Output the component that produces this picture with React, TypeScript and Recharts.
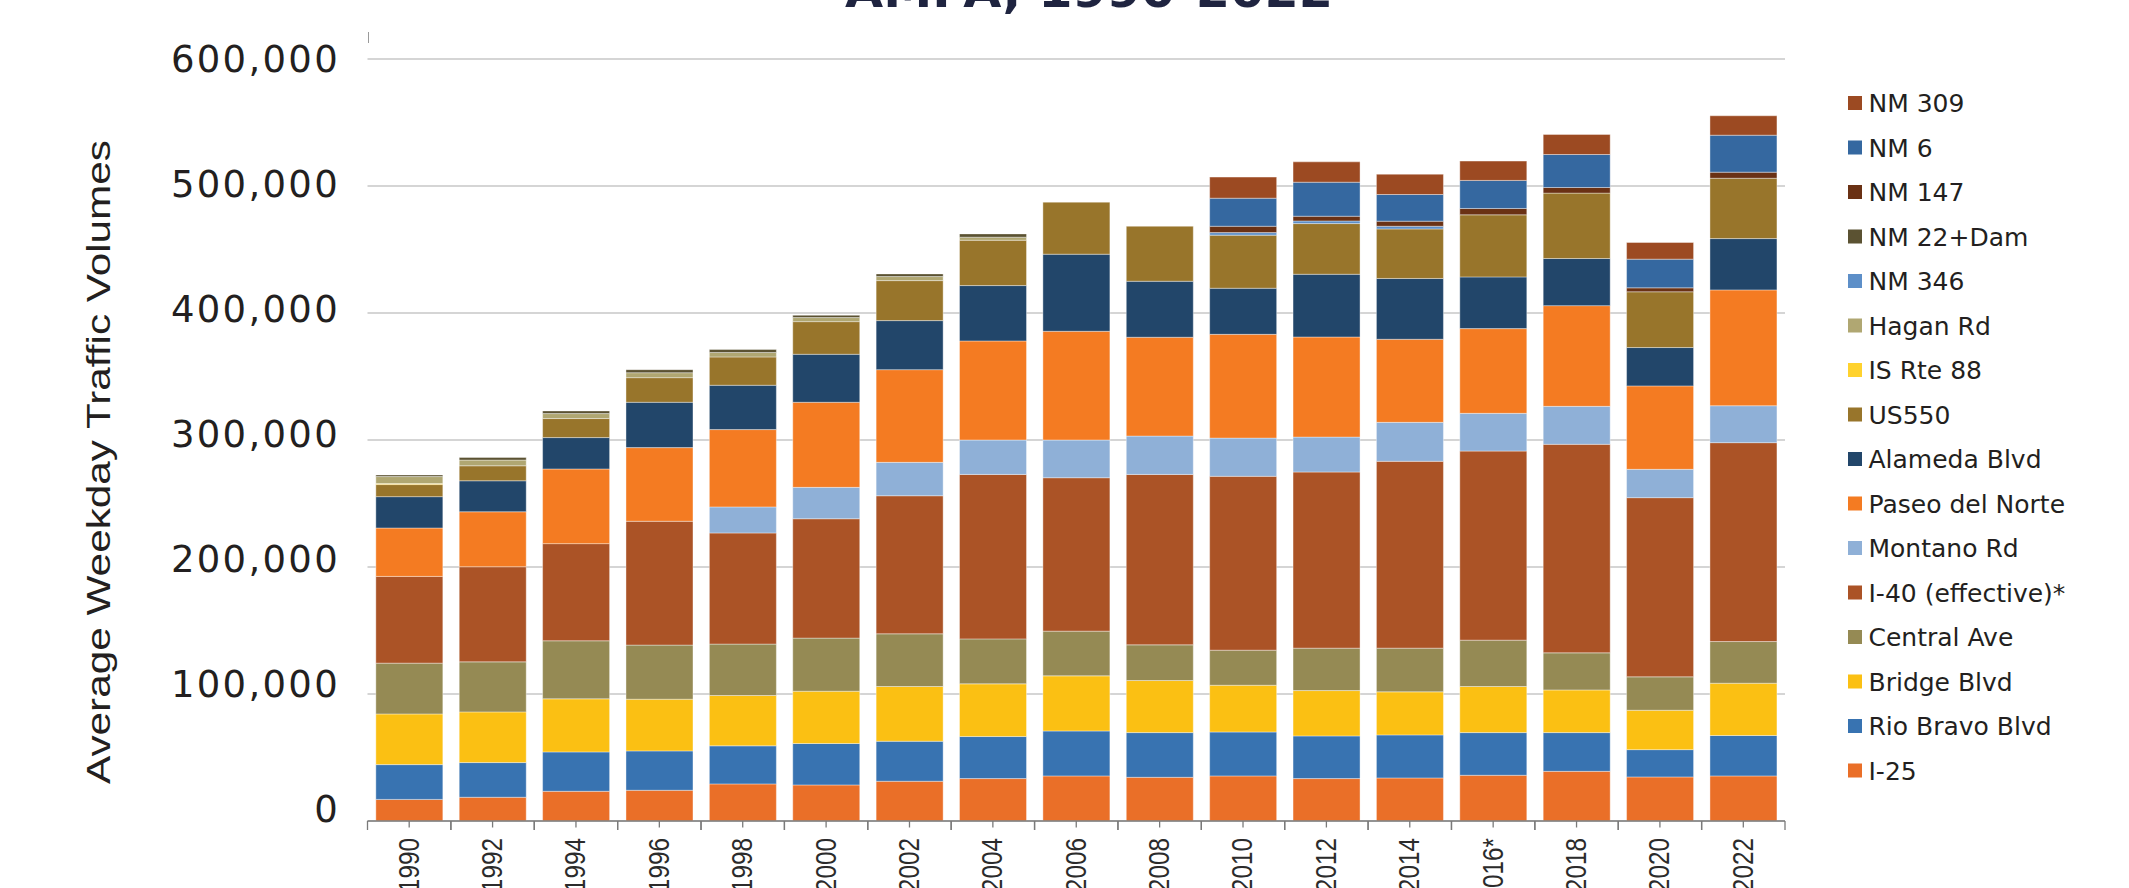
import { BarChart, Bar, XAxis, YAxis, CartesianGrid } from 'recharts';

const YEARS = ['1990', '1992', '1994', '1996', '1998', '2000', '2002', '2004', '2006', '2008', '2010', '2012', '2014', '2016*', '2018', '2020', '2022'];

// average weekday volumes per crossing, bottom of the stack first
const I25 = [17000, 18700, 23400, 24200, 29200, 28400, 31300, 33400, 35500, 34400, 35500, 33400, 33900, 36000, 39100, 34700, 35500];
const RIO_BRAVO = [27400, 27300, 31000, 31000, 30000, 32600, 31500, 33100, 35400, 35200, 34600, 33600, 33900, 33600, 30500, 21500, 31800];
const BRIDGE = [39900, 39900, 41800, 40700, 39600, 41200, 43100, 41500, 43400, 41000, 36800, 35700, 33900, 36300, 33600, 31000, 41200];
const CENTRAL = [40000, 39400, 45700, 42600, 40500, 41800, 41500, 35400, 35200, 28100, 27600, 33400, 34400, 36500, 29200, 26300, 32800];
const I40 = [68300, 74900, 76500, 97500, 87500, 94000, 108700, 129500, 120800, 134200, 136900, 138700, 147100, 148900, 164200, 141100, 156600];
const MONTANO = [0, 0, 0, 0, 20500, 24700, 26300, 27100, 29700, 30200, 30100, 27500, 30700, 29700, 29900, 22300, 29100];
const PASEO = [38100, 43300, 58800, 58000, 60900, 67000, 73000, 78000, 85600, 77800, 81700, 78800, 65400, 66700, 79300, 65700, 91200];
const ALAMEDA = [24700, 24400, 24700, 35700, 34900, 37800, 38600, 43600, 60700, 44100, 36300, 49400, 47900, 40700, 37100, 30200, 40400];
const US550 = [9500, 11800, 15000, 19400, 22300, 25700, 31500, 35700, 41000, 43300, 41800, 39900, 39000, 48900, 51500, 43900, 47500];
const IS_RTE_88 = [800, 0, 0, 0, 0, 0, 0, 0, 0, 0, 0, 0, 0, 0, 0, 0, 0];
const HAGAN = [5500, 4500, 3900, 3900, 3500, 3200, 3200, 2400, 0, 0, 0, 0, 0, 0, 0, 0, 0];
const NM346 = [0, 0, 0, 0, 0, 0, 0, 0, 0, 0, 2000, 2100, 2100, 0, 0, 0, 0];
const NM22_DAM = [1300, 2100, 2100, 2400, 2400, 1800, 2100, 2600, 0, 0, 0, 0, 0, 0, 0, 0, 0];
const NM147 = [0, 0, 0, 0, 0, 0, 0, 0, 0, 0, 5000, 3700, 4000, 5000, 4400, 3100, 4800];
const NM6 = [0, 0, 0, 0, 0, 0, 0, 0, 0, 0, 22100, 26800, 21000, 22100, 26000, 22600, 29100];
const NM309 = [0, 0, 0, 0, 0, 0, 0, 0, 0, 0, 16600, 16000, 16000, 15200, 15800, 13100, 15300];

const Y_TICKS = [0, 100000, 200000, 300000, 400000, 500000, 600000];

const SERIES = [
  { key: 'i25', label: 'I-25', color: '#ea6f28', values: I25 },
  { key: 'rioBravo', label: 'Rio Bravo Blvd', color: '#3873b1', values: RIO_BRAVO },
  { key: 'bridge', label: 'Bridge Blvd', color: '#fbc013', values: BRIDGE },
  { key: 'central', label: 'Central Ave', color: '#958a54', values: CENTRAL },
  { key: 'i40', label: 'I-40 (effective)*', color: '#ab5326', values: I40 },
  { key: 'montano', label: 'Montano Rd', color: '#8fb0d7', values: MONTANO },
  { key: 'paseo', label: 'Paseo del Norte', color: '#f47b22', values: PASEO },
  { key: 'alameda', label: 'Alameda Blvd', color: '#22466a', values: ALAMEDA },
  { key: 'us550', label: 'US550', color: '#98752b', values: US550 },
  { key: 'isRte88', label: 'IS Rte 88', color: '#ffd22e', values: IS_RTE_88 },
  { key: 'hagan', label: 'Hagan Rd', color: '#b0a772', values: HAGAN },
  { key: 'nm346', label: 'NM 346', color: '#5d8fc8', values: NM346 },
  { key: 'nm22', label: 'NM 22+Dam', color: '#5b5232', values: NM22_DAM },
  { key: 'nm147', label: 'NM 147', color: '#6a3114', values: NM147 },
  { key: 'nm6', label: 'NM 6', color: '#3568a0', values: NM6 },
  { key: 'nm309', label: 'NM 309', color: '#9c4a22', values: NM309 },
];

const data = YEARS.map((year, i) => {
  const row: Record<string, string | number> = { year };
  SERIES.forEach((s) => {
    row[s.key] = s.values[i];
  });
  return row;
});

const W = 2129;
const H = 888;
const PLOT_TOP = 59;
const TEXT = '#231f20';
const SANS = "'DejaVu Sans', 'Open Sans', sans-serif";

function YTick({ x, y, payload }: any) {
  // the source's labels sit a little tighter than its gridlines
  const drift = (y - PLOT_TOP) * -0.0165;
  return (
    <text x={x + 2} y={y + drift} dy="0.36em" textAnchor="end" fill={TEXT} fontFamily={SANS} fontSize={37} letterSpacing={2.3}>
      {Number(payload.value).toLocaleString('en-US')}
    </text>
  );
}

function XTick({ x, y, payload }: any) {
  const half = payload.offset || 0;
  return (
    <g>
      <line x1={x} x2={x} y1={y} y2={y + 6.5} stroke="#7a7a7a" strokeWidth={1.3} />
      {half > 0 && <line x1={x - half} x2={x - half} y1={y} y2={y + 9} stroke="#7a7a7a" strokeWidth={1.3} />}
      {half > 0 && <line x1={x + half} x2={x + half} y1={y} y2={y + 9} stroke="#7a7a7a" strokeWidth={1.3} />}
      {/* narrow face: squeeze along the text direction */}
      <text
        transform={`translate(${x - 1},${y + 17}) rotate(-90) scale(0.84,1)`}
        textAnchor="end"
        dy="0.36em"
        fill="#2b2b2b"
        fontFamily="'Liberation Sans', Arial, sans-serif"
        fontSize={29}
      >
        {payload.value}
      </text>
    </g>
  );
}

export default function App() {
  const legendItems = [...SERIES].reverse();
  return (
    <div style={{ position: 'absolute', left: 0, top: 0, width: W, height: H, background: '#fff', overflow: 'hidden' }}>
      <BarChart
        width={W}
        height={H}
        data={data}
        margin={{ top: PLOT_TOP, right: 344, bottom: 0, left: 167.5 }}
        barCategoryGap="10%"
      >
        <CartesianGrid vertical={false} stroke="#ababab" strokeWidth={1.2} />
        <XAxis
          dataKey="year"
          height={67}
          interval={0}
          tickSize={0}
          tickMargin={0}
          tickLine={false}
          axisLine={{ stroke: '#7d7d7d', strokeWidth: 1.5 }}
          tick={<XTick />}
        />
        <YAxis
          width={200}
          domain={[0, 600000]}
          ticks={Y_TICKS}
          axisLine={false}
          tickLine={false}
          tickSize={6}
          tickMargin={23.5}
          tick={<YTick />}
        />
        {SERIES.map((s) => (
          <Bar
            key={s.key}
            dataKey={s.key}
            name={s.label}
            stackId="crossings"
            fill={s.color}
            stroke="#ffffff"
            strokeWidth={0.7}
            strokeOpacity={0.55}
            isAnimationActive={false}
          />
        ))}
      </BarChart>
      <svg width={W} height={H} style={{ position: 'absolute', left: 0, top: 0, pointerEvents: 'none' }}>
        <text
          x={1089}
          y={7}
          textAnchor="middle"
          fontFamily="'DejaVu Sans Condensed', 'Liberation Sans', sans-serif"
          fontWeight="bold"
          fontSize={46}
          fill="#1f2440"
          textLength={488}
          lengthAdjust="spacingAndGlyphs"
        >
          AMPA, 1990-2022
        </text>
        <line x1={368.5} x2={368.5} y1={32} y2={43} stroke="#9a9a9a" strokeWidth={1} />
        <text
          transform="translate(110,462) rotate(-90)"
          textAnchor="middle"
          fontFamily="'Liberation Sans Narrow', 'Liberation Sans', sans-serif"
          fontSize={33}
          fill={TEXT}
          textLength={644}
          lengthAdjust="spacingAndGlyphs"
        >
          Average Weekday Traffic Volumes
        </text>
        {legendItems.map((s, i) => (
          <g key={s.key} transform={`translate(1848,${103 + i * 44.5})`}>
            <rect x={0} y={-7} width={14} height={14} fill={s.color} />
            <text x={20.5} y={0} dy="0.36em" fontFamily={SANS} fontSize={25} fill={TEXT}>
              {s.label}
            </text>
          </g>
        ))}
      </svg>
    </div>
  );
}
